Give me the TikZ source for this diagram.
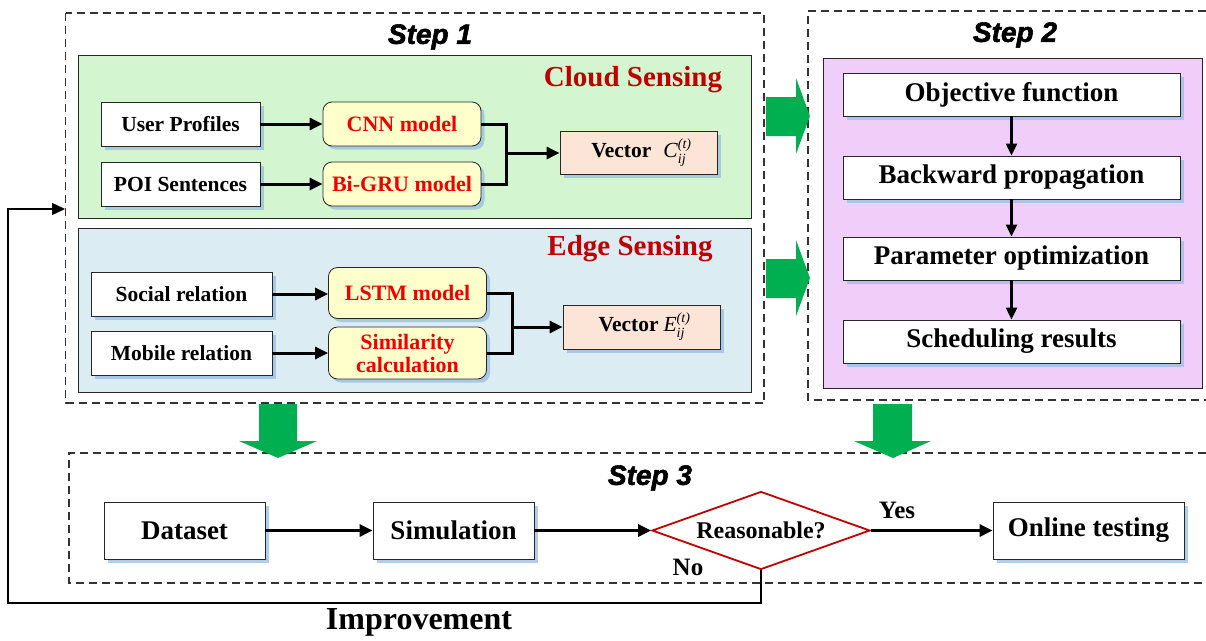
\documentclass[tikz,border=0pt]{standalone}
\usepackage{fontspec}
\setmainfont{Liberation Serif}
\newfontfamily\stepfont[FakeBold=2]{Liberation Sans}
\usetikzlibrary{shapes.geometric,arrows.meta,shadows}
\definecolor{cloudgreen}{RGB}{211,246,208}
\definecolor{edgeblue}{RGB}{219,236,243}
\definecolor{purp}{RGB}{241,206,250}
\definecolor{lyellow}{RGB}{255,255,204}
\definecolor{peach}{RGB}{252,229,214}
\definecolor{darkred}{RGB}{192,0,0}
\definecolor{brightred}{RGB}{240,0,0}
\definecolor{agreen}{RGB}{0,176,80}
\definecolor{shblue}{RGB}{150,190,228}
\newcommand\fsz[1]{\fontsize{#1}{#1}\selectfont}
\newcommand\scrsz{\fontsize{14}{14}\selectfont}
\tikzset{
  every node/.style={inner sep=0pt},
  dashbox/.style={draw=black!80, line width=1.2pt, dash pattern=on 8pt off 5pt},
  shadowed/.style={drop shadow={shadow xshift=3.5pt, shadow yshift=-3.5pt, fill=shblue, opacity=0.75}},
  panel/.style={draw=black!85, line width=0.9pt},
  wbox/.style={draw=black!85, line width=0.8pt, fill=white, shadowed, font=\bfseries\fsz{21.5}},
  ybox/.style={draw=black!85, line width=0.8pt, fill=lyellow, rounded corners=9pt, shadowed, text=brightred, font=\bfseries\fsz{22}, align=center},
  vbox/.style={draw=black!85, line width=0.8pt, fill=peach, shadowed, font=\bfseries\fsz{21.5}},
  sbox/.style={draw=black!85, line width=0.8pt, fill=white, shadowed, font=\bfseries\fsz{27}, minimum width=337pt, minimum height=43pt},
  tbox/.style={draw=black!85, line width=0.8pt, fill=white, shadowed, font=\bfseries\fsz{27}, minimum height=57pt},
  header/.style={text=darkred, font=\bfseries\fsz{29}, anchor=base},
  steptitle/.style={font=\stepfont\bfseries\itshape\fsz{28}},
  conn/.style={line width=3pt, -{Triangle[length=13pt,width=12pt]}},
  conn2/.style={line width=2.2pt, -{Triangle[length=12pt,width=11pt]}},
  joint/.style={line width=3pt},
  fbline/.style={line width=1.6pt, -{Triangle[length=13pt,width=12pt]}},
  bigarrow/.style={fill=agreen},
  lbl/.style={font=\bfseries\fsz{25}},
}
\begin{document}
\begin{tikzpicture}[x=1pt,y=-1pt]
\useasboundingbox (0,0) rectangle (1206,640);
\fill[white] (0,0) rectangle (1206,640);

% dashed step frames
\draw[dashbox] (65.5,13) rectangle (764,403);
\draw[dashbox] (1206,11) -- (808,11) -- (808,400) -- (1206,400);
\draw[dashbox] (1206,453) -- (69,453) -- (69,583) -- (1206,583);

% step titles
\node[steptitle] (s1) at (430,37) {Step 1};
\node[steptitle] (s2) at (1015,35) {Step 2};
\node[steptitle] (s3) at (650,478) {Step 3};

% panels
\draw[panel, fill=cloudgreen] (78,55) rectangle (751,218);
\draw[panel, fill=edgeblue] (78,228) rectangle (751,392);
\draw[panel, fill=purp] (823,58) rectangle (1202,388);

\node[header] (cs) at (633,86) {Cloud Sensing};
\node[header] (es) at (630,255) {Edge Sensing};

% cloud sensing
\node[wbox, minimum width=159pt, minimum height=44pt] (up) at (180.5,124) {User Profiles};
\node[wbox, minimum width=159pt, minimum height=44pt] (poi) at (180.5,184) {POI Sentences};
\node[ybox, minimum width=158pt, minimum height=44pt] (cnn) at (402,124) {CNN model};
\node[ybox, minimum width=158pt, minimum height=44pt] (gru) at (402,184) {Bi-GRU model};
\node[vbox, minimum width=157pt, minimum height=43pt] (vc) at (638.5,152.5)
  {Vector\hspace{12pt}\mdseries\textit{C}\makebox[0pt][l]{\raisebox{9pt}{\scrsz\textit{(t)}}}\raisebox{-6pt}{\scrsz\textit{ij}}\hspace{6pt}};
\coordinate (jc) at (506,153);
\draw[conn] (up) -- (cnn);
\draw[conn] (poi) -- (gru);
\draw[joint] (cnn.east) -| (jc) |- (gru.east);
\draw[conn] (jc) -- (vc.west |- jc);

% edge sensing
\node[wbox, minimum width=181pt, minimum height=44pt] (soc) at (181.5,294) {Social relation};
\node[wbox, minimum width=181pt, minimum height=44pt] (mob) at (181.5,353) {Mobile relation};
\node[ybox, minimum width=158pt, minimum height=51pt] (lstm) at (407.5,293) {LSTM model};
\node[ybox, minimum width=158pt, minimum height=52pt] (sim) at (407.5,353) {Similarity\\[1pt]calculation};
\node[vbox, minimum width=157pt, minimum height=44pt] (ve) at (641.5,327)
  {Vector\hspace{5pt}\mdseries\textit{E}\makebox[0pt][l]{\raisebox{9pt}{\scrsz\textit{(t)}}}\raisebox{-6pt}{\scrsz\textit{ij}}\hspace{4pt}};
\coordinate (je) at (512,327);
\draw[conn] (soc) -- (lstm.west |- soc);
\draw[conn] (mob) -- (sim.west |- mob);
\draw[joint] (lstm.east) -| (je) |- (sim.east);
\draw[conn] (je) -- (ve.west |- je);

% step 2
\node[sbox] (obj) at (1011.5,94.5) {Objective function};
\node[sbox] (back) at (1011.5,177.5) {Backward propagation};
\node[sbox] (par) at (1011.5,258.5) {Parameter optimization};
\node[sbox] (sch) at (1011.5,341.5) {Scheduling results};
\draw[conn2] (obj) -- (back);
\draw[conn2] (back) -- (par);
\draw[conn2] (par) -- (sch);

% big green arrows
\fill[bigarrow] (766,97) -- (796,97) -- (796,78) -- (810,116) -- (796,154) -- (796,136) -- (766,136) -- cycle;
\fill[bigarrow] (766,259) -- (796,259) -- (796,240) -- (810,278) -- (796,316) -- (796,298) -- (766,298) -- cycle;
\fill[bigarrow] (259,404) -- (297,404) -- (297,441) -- (317,441) -- (278,458) -- (239,441) -- (259,441) -- cycle;
\fill[bigarrow] (873,404) -- (912,404) -- (912,441) -- (931,441) -- (893,458) -- (854,441) -- (873,441) -- cycle;

% step 3
\node[tbox, minimum width=161pt] (ds) at (184.5,530.5) {Dataset};
\node[tbox, minimum width=161pt] (simu) at (453.5,530.5) {Simulation};
\node[draw=darkred, line width=1.8pt, fill=white, diamond, aspect=2.8, minimum width=218pt, minimum height=78pt, font=\bfseries\fsz{24}] (dia) at (761,530.5) {Reasonable?};
\node[tbox, minimum width=191pt] (ot) at (1088.5,530.5) {Online testing};
\draw[conn] (ds) -- (simu);
\draw[conn] (simu) -- (dia);
\draw[conn] (dia) -- (ot);
\node[lbl] (yes) at (897,510) {Yes};
\node[lbl] (no) at (688,567) {No};

% feedback
\coordinate (fb) at (65,209);
\draw[fbline] (dia.south) |- (8,603) |- (fb);
\node[font=\bfseries\fsz{32}] (imp) at (419,622) {Improvement};
\end{tikzpicture}
\end{document}
